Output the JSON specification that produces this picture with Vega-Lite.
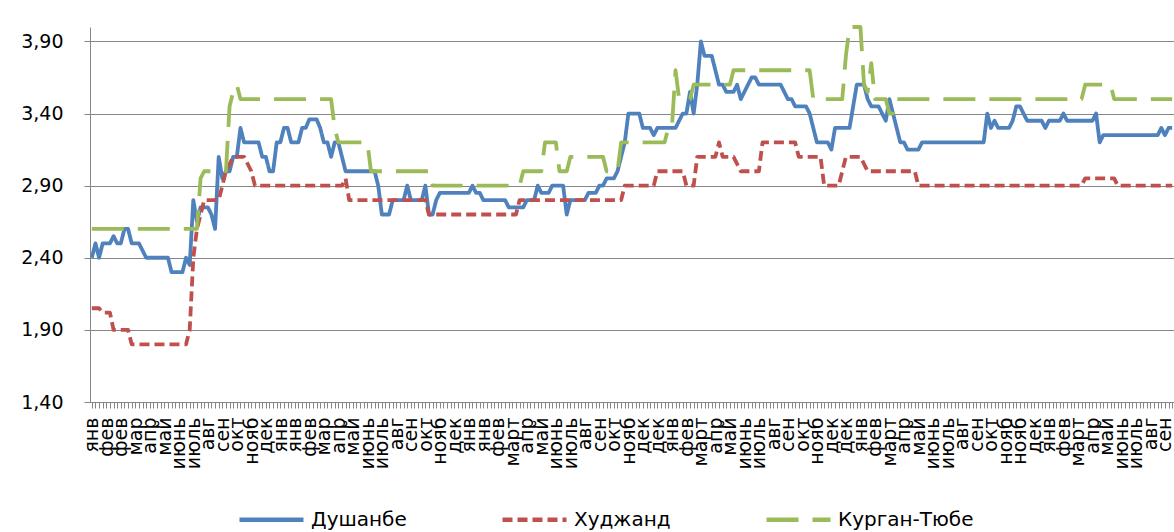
{
"$schema": "https://vega.github.io/schema/vega-lite/v6.json",
"width": 1084, "height": 375,
"autosize": {"type": "none"},
"padding": {"left": 90, "top": 27, "right": 0, "bottom": 130},
"background": "white",
"config": {"view": {"stroke": null}, "font": "DejaVu Sans"},
"data": {"values": [
{"w":"000|янв","Душанбе":2.4,"Худжанд":2.05,"Курган-Тюбе":2.6},
{"w":"001|","Душанбе":2.5,"Худжанд":2.05,"Курган-Тюбе":2.6},
{"w":"002|","Душанбе":2.4,"Худжанд":2.05,"Курган-Тюбе":2.6},
{"w":"003|","Душанбе":2.5,"Худжанд":2.02,"Курган-Тюбе":2.6},
{"w":"004|фев","Душанбе":2.5,"Худжанд":2.02,"Курган-Тюбе":2.6},
{"w":"005|","Душанбе":2.5,"Худжанд":2.02,"Курган-Тюбе":2.6},
{"w":"006|","Душанбе":2.55,"Худжанд":1.9,"Курган-Тюбе":2.6},
{"w":"007|","Душанбе":2.5,"Худжанд":1.9,"Курган-Тюбе":2.6},
{"w":"008|фев","Душанбе":2.5,"Худжанд":1.9,"Курган-Тюбе":2.6},
{"w":"009|","Душанбе":2.6,"Худжанд":1.9,"Курган-Тюбе":2.6},
{"w":"010|","Душанбе":2.6,"Худжанд":1.9,"Курган-Тюбе":2.6},
{"w":"011|","Душанбе":2.5,"Худжанд":1.8,"Курган-Тюбе":2.6},
{"w":"012|мар","Душанбе":2.5,"Худжанд":1.8,"Курган-Тюбе":2.6},
{"w":"013|","Душанбе":2.5,"Худжанд":1.8,"Курган-Тюбе":2.6},
{"w":"014|","Душанбе":2.45,"Худжанд":1.8,"Курган-Тюбе":2.6},
{"w":"015|","Душанбе":2.4,"Худжанд":1.8,"Курган-Тюбе":2.6},
{"w":"016|апр","Душанбе":2.4,"Худжанд":1.8,"Курган-Тюбе":2.6},
{"w":"017|","Душанбе":2.4,"Худжанд":1.8,"Курган-Тюбе":2.6},
{"w":"018|","Душанбе":2.4,"Худжанд":1.8,"Курган-Тюбе":2.6},
{"w":"019|","Душанбе":2.4,"Худжанд":1.8,"Курган-Тюбе":2.6},
{"w":"020|май","Душанбе":2.4,"Худжанд":1.8,"Курган-Тюбе":2.6},
{"w":"021|","Душанбе":2.4,"Худжанд":1.8,"Курган-Тюбе":2.6},
{"w":"022|","Душанбе":2.3,"Худжанд":1.8,"Курган-Тюбе":2.6},
{"w":"023|","Душанбе":2.3,"Худжанд":1.8,"Курган-Тюбе":2.6},
{"w":"024|июнь","Душанбе":2.3,"Худжанд":1.8,"Курган-Тюбе":2.6},
{"w":"025|","Душанбе":2.3,"Худжанд":1.8,"Курган-Тюбе":2.6},
{"w":"026|","Душанбе":2.4,"Худжанд":1.8,"Курган-Тюбе":2.6},
{"w":"027|","Душанбе":2.35,"Худжанд":1.9,"Курган-Тюбе":2.6},
{"w":"028|июль","Душанбе":2.8,"Худжанд":2.4,"Курган-Тюбе":2.6},
{"w":"029|","Душанбе":2.65,"Худжанд":2.6,"Курган-Тюбе":2.6},
{"w":"030|","Душанбе":2.75,"Худжанд":2.7,"Курган-Тюбе":2.95},
{"w":"031|","Душанбе":2.75,"Худжанд":2.8,"Курган-Тюбе":3.0},
{"w":"032|авг","Душанбе":2.75,"Худжанд":2.8,"Курган-Тюбе":3.0},
{"w":"033|","Душанбе":2.7,"Худжанд":2.8,"Курган-Тюбе":3.0},
{"w":"034|","Душанбе":2.6,"Худжанд":2.8,"Курган-Тюбе":3.0},
{"w":"035|","Душанбе":3.1,"Худжанд":2.8,"Курган-Тюбе":3.0},
{"w":"036|сен","Душанбе":2.95,"Худжанд":2.9,"Курган-Тюбе":3.0},
{"w":"037|","Душанбе":3.0,"Худжанд":3.0,"Курган-Тюбе":3.0},
{"w":"038|","Душанбе":3.0,"Худжанд":3.05,"Курган-Тюбе":3.45},
{"w":"039|","Душанбе":3.1,"Худжанд":3.1,"Курган-Тюбе":3.55},
{"w":"040|окт","Душанбе":3.1,"Худжанд":3.1,"Курган-Тюбе":3.6},
{"w":"041|","Душанбе":3.3,"Худжанд":3.1,"Курган-Тюбе":3.5},
{"w":"042|","Душанбе":3.2,"Худжанд":3.1,"Курган-Тюбе":3.5},
{"w":"043|","Душанбе":3.2,"Худжанд":3.05,"Курган-Тюбе":3.5},
{"w":"044|нояб","Душанбе":3.2,"Худжанд":3.0,"Курган-Тюбе":3.5},
{"w":"045|","Душанбе":3.2,"Худжанд":2.9,"Курган-Тюбе":3.5},
{"w":"046|","Душанбе":3.2,"Худжанд":2.9,"Курган-Тюбе":3.5},
{"w":"047|","Душанбе":3.1,"Худжанд":2.9,"Курган-Тюбе":3.5},
{"w":"048|дек","Душанбе":3.1,"Худжанд":2.9,"Курган-Тюбе":3.5},
{"w":"049|","Душанбе":3.0,"Худжанд":2.9,"Курган-Тюбе":3.5},
{"w":"050|","Душанбе":3.0,"Худжанд":2.9,"Курган-Тюбе":3.5},
{"w":"051|","Душанбе":3.2,"Худжанд":2.9,"Курган-Тюбе":3.5},
{"w":"052|янв","Душанбе":3.2,"Худжанд":2.9,"Курган-Тюбе":3.5},
{"w":"053|","Душанбе":3.3,"Худжанд":2.9,"Курган-Тюбе":3.5},
{"w":"054|","Душанбе":3.3,"Худжанд":2.9,"Курган-Тюбе":3.5},
{"w":"055|","Душанбе":3.2,"Худжанд":2.9,"Курган-Тюбе":3.5},
{"w":"056|янв","Душанбе":3.2,"Худжанд":2.9,"Курган-Тюбе":3.5},
{"w":"057|","Душанбе":3.2,"Худжанд":2.9,"Курган-Тюбе":3.5},
{"w":"058|","Душанбе":3.3,"Худжанд":2.9,"Курган-Тюбе":3.5},
{"w":"059|","Душанбе":3.3,"Худжанд":2.9,"Курган-Тюбе":3.5},
{"w":"060|фев","Душанбе":3.36,"Худжанд":2.9,"Курган-Тюбе":3.5},
{"w":"061|","Душанбе":3.36,"Худжанд":2.9,"Курган-Тюбе":3.5},
{"w":"062|","Душанбе":3.36,"Худжанд":2.9,"Курган-Тюбе":3.5},
{"w":"063|","Душанбе":3.3,"Худжанд":2.9,"Курган-Тюбе":3.5},
{"w":"064|мар","Душанбе":3.2,"Худжанд":2.9,"Курган-Тюбе":3.5},
{"w":"065|","Душанбе":3.2,"Худжанд":2.9,"Курган-Тюбе":3.5},
{"w":"066|","Душанбе":3.1,"Худжанд":2.9,"Курган-Тюбе":3.5},
{"w":"067|","Душанбе":3.2,"Худжанд":2.9,"Курган-Тюбе":3.3},
{"w":"068|апр","Душанбе":3.2,"Худжанд":2.9,"Курган-Тюбе":3.2},
{"w":"069|","Душанбе":3.1,"Худжанд":2.9,"Курган-Тюбе":3.2},
{"w":"070|","Душанбе":3.0,"Худжанд":2.95,"Курган-Тюбе":3.2},
{"w":"071|","Душанбе":3.0,"Худжанд":2.8,"Курган-Тюбе":3.2},
{"w":"072|май","Душанбе":3.0,"Худжанд":2.8,"Курган-Тюбе":3.2},
{"w":"073|","Душанбе":3.0,"Худжанд":2.8,"Курган-Тюбе":3.2},
{"w":"074|","Душанбе":3.0,"Худжанд":2.8,"Курган-Тюбе":3.2},
{"w":"075|","Душанбе":3.0,"Худжанд":2.8,"Курган-Тюбе":3.2},
{"w":"076|июнь","Душанбе":3.0,"Худжанд":2.8,"Курган-Тюбе":3.2},
{"w":"077|","Душанбе":3.0,"Худжанд":2.8,"Курган-Тюбе":3.0},
{"w":"078|","Душанбе":3.0,"Худжанд":2.8,"Курган-Тюбе":3.0},
{"w":"079|","Душанбе":2.9,"Худжанд":2.8,"Курган-Тюбе":3.0},
{"w":"080|июль","Душанбе":2.7,"Худжанд":2.8,"Курган-Тюбе":3.0},
{"w":"081|","Душанбе":2.7,"Худжанд":2.8,"Курган-Тюбе":3.0},
{"w":"082|","Душанбе":2.7,"Худжанд":2.8,"Курган-Тюбе":3.0},
{"w":"083|","Душанбе":2.8,"Худжанд":2.8,"Курган-Тюбе":3.0},
{"w":"084|авг","Душанбе":2.8,"Худжанд":2.8,"Курган-Тюбе":3.0},
{"w":"085|","Душанбе":2.8,"Худжанд":2.8,"Курган-Тюбе":3.0},
{"w":"086|","Душанбе":2.8,"Худжанд":2.8,"Курган-Тюбе":3.0},
{"w":"087|","Душанбе":2.9,"Худжанд":2.8,"Курган-Тюбе":3.0},
{"w":"088|сен","Душанбе":2.8,"Худжанд":2.8,"Курган-Тюбе":3.0},
{"w":"089|","Душанбе":2.8,"Худжанд":2.8,"Курган-Тюбе":3.0},
{"w":"090|","Душанбе":2.8,"Худжанд":2.8,"Курган-Тюбе":3.0},
{"w":"091|","Душанбе":2.8,"Худжанд":2.8,"Курган-Тюбе":3.0},
{"w":"092|окт","Душанбе":2.9,"Худжанд":2.8,"Курган-Тюбе":3.0},
{"w":"093|","Душанбе":2.7,"Худжанд":2.7,"Курган-Тюбе":3.0},
{"w":"094|","Душанбе":2.7,"Худжанд":2.7,"Курган-Тюбе":2.9},
{"w":"095|","Душанбе":2.8,"Худжанд":2.7,"Курган-Тюбе":2.9},
{"w":"096|нояб","Душанбе":2.85,"Худжанд":2.7,"Курган-Тюбе":2.9},
{"w":"097|","Душанбе":2.85,"Худжанд":2.7,"Курган-Тюбе":2.9},
{"w":"098|","Душанбе":2.85,"Худжанд":2.7,"Курган-Тюбе":2.9},
{"w":"099|","Душанбе":2.85,"Худжанд":2.7,"Курган-Тюбе":2.9},
{"w":"100|дек","Душанбе":2.85,"Худжанд":2.7,"Курган-Тюбе":2.9},
{"w":"101|","Душанбе":2.85,"Худжанд":2.7,"Курган-Тюбе":2.9},
{"w":"102|","Душанбе":2.85,"Худжанд":2.7,"Курган-Тюбе":2.9},
{"w":"103|","Душанбе":2.85,"Худжанд":2.7,"Курган-Тюбе":2.9},
{"w":"104|янв","Душанбе":2.85,"Худжанд":2.7,"Курган-Тюбе":2.9},
{"w":"105|","Душанбе":2.9,"Худжанд":2.7,"Курган-Тюбе":2.9},
{"w":"106|","Душанбе":2.85,"Худжанд":2.7,"Курган-Тюбе":2.9},
{"w":"107|","Душанбе":2.85,"Худжанд":2.7,"Курган-Тюбе":2.9},
{"w":"108|янв","Душанбе":2.8,"Худжанд":2.7,"Курган-Тюбе":2.9},
{"w":"109|","Душанбе":2.8,"Худжанд":2.7,"Курган-Тюбе":2.9},
{"w":"110|","Душанбе":2.8,"Худжанд":2.7,"Курган-Тюбе":2.9},
{"w":"111|","Душанбе":2.8,"Худжанд":2.7,"Курган-Тюбе":2.9},
{"w":"112|фев","Душанбе":2.8,"Худжанд":2.7,"Курган-Тюбе":2.9},
{"w":"113|","Душанбе":2.8,"Худжанд":2.7,"Курган-Тюбе":2.9},
{"w":"114|","Душанбе":2.8,"Худжанд":2.7,"Курган-Тюбе":2.9},
{"w":"115|","Душанбе":2.75,"Худжанд":2.7,"Курган-Тюбе":2.9},
{"w":"116|март","Душанбе":2.75,"Худжанд":2.7,"Курган-Тюбе":2.9},
{"w":"117|","Душанбе":2.75,"Худжанд":2.7,"Курган-Тюбе":2.9},
{"w":"118|","Душанбе":2.75,"Худжанд":2.8,"Курган-Тюбе":2.9},
{"w":"119|","Душанбе":2.75,"Худжанд":2.8,"Курган-Тюбе":3.0},
{"w":"120|апр","Душанбе":2.8,"Худжанд":2.8,"Курган-Тюбе":3.0},
{"w":"121|","Душанбе":2.8,"Худжанд":2.8,"Курган-Тюбе":3.0},
{"w":"122|","Душанбе":2.8,"Худжанд":2.8,"Курган-Тюбе":3.0},
{"w":"123|","Душанбе":2.9,"Худжанд":2.8,"Курган-Тюбе":3.0},
{"w":"124|май","Душанбе":2.85,"Худжанд":2.8,"Курган-Тюбе":3.0},
{"w":"125|","Душанбе":2.85,"Худжанд":2.8,"Курган-Тюбе":3.2},
{"w":"126|","Душанбе":2.85,"Худжанд":2.8,"Курган-Тюбе":3.2},
{"w":"127|","Душанбе":2.9,"Худжанд":2.8,"Курган-Тюбе":3.2},
{"w":"128|июнь","Душанбе":2.9,"Худжанд":2.8,"Курган-Тюбе":3.2},
{"w":"129|","Душанбе":2.9,"Худжанд":2.8,"Курган-Тюбе":3.0},
{"w":"130|","Душанбе":2.9,"Худжанд":2.8,"Курган-Тюбе":3.0},
{"w":"131|","Душанбе":2.7,"Худжанд":2.8,"Курган-Тюбе":3.0},
{"w":"132|июль","Душанбе":2.8,"Худжанд":2.8,"Курган-Тюбе":3.1},
{"w":"133|","Душанбе":2.8,"Худжанд":2.8,"Курган-Тюбе":3.1},
{"w":"134|","Душанбе":2.8,"Худжанд":2.8,"Курган-Тюбе":3.1},
{"w":"135|","Душанбе":2.8,"Худжанд":2.8,"Курган-Тюбе":3.1},
{"w":"136|авг","Душанбе":2.8,"Худжанд":2.8,"Курган-Тюбе":3.1},
{"w":"137|","Душанбе":2.85,"Худжанд":2.8,"Курган-Тюбе":3.1},
{"w":"138|","Душанбе":2.85,"Худжанд":2.8,"Курган-Тюбе":3.1},
{"w":"139|","Душанбе":2.85,"Худжанд":2.8,"Курган-Тюбе":3.1},
{"w":"140|сен","Душанбе":2.9,"Худжанд":2.8,"Курган-Тюбе":3.1},
{"w":"141|","Душанбе":2.9,"Худжанд":2.8,"Курган-Тюбе":3.1},
{"w":"142|","Душанбе":2.95,"Худжанд":2.8,"Курган-Тюбе":3.0},
{"w":"143|","Душанбе":2.95,"Худжанд":2.8,"Курган-Тюбе":3.0},
{"w":"144|окт","Душанбе":2.95,"Худжанд":2.8,"Курган-Тюбе":3.0},
{"w":"145|","Душанбе":3.0,"Худжанд":2.8,"Курган-Тюбе":3.0},
{"w":"146|","Душанбе":3.1,"Худжанд":2.8,"Курган-Тюбе":3.2},
{"w":"147|","Душанбе":3.2,"Худжанд":2.9,"Курган-Тюбе":3.2},
{"w":"148|нояб","Душанбе":3.4,"Худжанд":2.9,"Курган-Тюбе":3.2},
{"w":"149|","Душанбе":3.4,"Худжанд":2.9,"Курган-Тюбе":3.2},
{"w":"150|","Душанбе":3.4,"Худжанд":2.9,"Курган-Тюбе":3.2},
{"w":"151|","Душанбе":3.4,"Худжанд":2.9,"Курган-Тюбе":3.2},
{"w":"152|дек","Душанбе":3.3,"Худжанд":2.9,"Курган-Тюбе":3.2},
{"w":"153|","Душанбе":3.3,"Худжанд":2.9,"Курган-Тюбе":3.2},
{"w":"154|","Душанбе":3.3,"Худжанд":2.9,"Курган-Тюбе":3.2},
{"w":"155|","Душанбе":3.25,"Худжанд":2.9,"Курган-Тюбе":3.2},
{"w":"156|дек","Душанбе":3.3,"Худжанд":3.0,"Курган-Тюбе":3.2},
{"w":"157|","Душанбе":3.3,"Худжанд":3.0,"Курган-Тюбе":3.2},
{"w":"158|","Душанбе":3.3,"Худжанд":3.0,"Курган-Тюбе":3.2},
{"w":"159|","Душанбе":3.3,"Худжанд":3.0,"Курган-Тюбе":3.3},
{"w":"160|янв","Душанбе":3.3,"Худжанд":3.0,"Курган-Тюбе":3.3},
{"w":"161|","Душанбе":3.3,"Худжанд":3.0,"Курган-Тюбе":3.7},
{"w":"162|","Душанбе":3.35,"Худжанд":3.0,"Курган-Тюбе":3.5},
{"w":"163|","Душанбе":3.4,"Худжанд":3.0,"Курган-Тюбе":3.5},
{"w":"164|фев","Душанбе":3.4,"Худжанд":2.9,"Курган-Тюбе":3.5},
{"w":"165|","Душанбе":3.55,"Худжанд":2.9,"Курган-Тюбе":3.5},
{"w":"166|","Душанбе":3.4,"Худжанд":2.9,"Курган-Тюбе":3.6},
{"w":"167|","Душанбе":3.6,"Худжанд":3.1,"Курган-Тюбе":3.6},
{"w":"168|март","Душанбе":3.9,"Худжанд":3.1,"Курган-Тюбе":3.6},
{"w":"169|","Душанбе":3.8,"Худжанд":3.1,"Курган-Тюбе":3.6},
{"w":"170|","Душанбе":3.8,"Худжанд":3.1,"Курган-Тюбе":3.6},
{"w":"171|","Душанбе":3.8,"Худжанд":3.1,"Курган-Тюбе":3.6},
{"w":"172|апр","Душанбе":3.7,"Худжанд":3.1,"Курган-Тюбе":3.6},
{"w":"173|","Душанбе":3.6,"Худжанд":3.2,"Курган-Тюбе":3.6},
{"w":"174|","Душанбе":3.6,"Худжанд":3.1,"Курган-Тюбе":3.6},
{"w":"175|","Душанбе":3.55,"Худжанд":3.1,"Курган-Тюбе":3.6},
{"w":"176|май","Душанбе":3.55,"Худжанд":3.1,"Курган-Тюбе":3.6},
{"w":"177|","Душанбе":3.55,"Худжанд":3.1,"Курган-Тюбе":3.7},
{"w":"178|","Душанбе":3.6,"Худжанд":3.05,"Курган-Тюбе":3.7},
{"w":"179|","Душанбе":3.5,"Худжанд":3.0,"Курган-Тюбе":3.7},
{"w":"180|июнь","Душанбе":3.55,"Худжанд":3.0,"Курган-Тюбе":3.7},
{"w":"181|","Душанбе":3.6,"Худжанд":3.0,"Курган-Тюбе":3.7},
{"w":"182|","Душанбе":3.65,"Худжанд":3.0,"Курган-Тюбе":3.7},
{"w":"183|","Душанбе":3.65,"Худжанд":3.0,"Курган-Тюбе":3.7},
{"w":"184|июль","Душанбе":3.6,"Худжанд":3.0,"Курган-Тюбе":3.7},
{"w":"185|","Душанбе":3.6,"Худжанд":3.2,"Курган-Тюбе":3.7},
{"w":"186|","Душанбе":3.6,"Худжанд":3.2,"Курган-Тюбе":3.7},
{"w":"187|","Душанбе":3.6,"Худжанд":3.2,"Курган-Тюбе":3.7},
{"w":"188|авг","Душанбе":3.6,"Худжанд":3.2,"Курган-Тюбе":3.7},
{"w":"189|","Душанбе":3.6,"Худжанд":3.2,"Курган-Тюбе":3.7},
{"w":"190|","Душанбе":3.6,"Худжанд":3.2,"Курган-Тюбе":3.7},
{"w":"191|","Душанбе":3.55,"Худжанд":3.2,"Курган-Тюбе":3.7},
{"w":"192|сен","Душанбе":3.5,"Худжанд":3.2,"Курган-Тюбе":3.7},
{"w":"193|","Душанбе":3.5,"Худжанд":3.2,"Курган-Тюбе":3.7},
{"w":"194|","Душанбе":3.45,"Худжанд":3.2,"Курган-Тюбе":3.7},
{"w":"195|","Душанбе":3.45,"Худжанд":3.1,"Курган-Тюбе":3.7},
{"w":"196|окт","Душанбе":3.45,"Худжанд":3.1,"Курган-Тюбе":3.7},
{"w":"197|","Душанбе":3.45,"Худжанд":3.1,"Курган-Тюбе":3.7},
{"w":"198|","Душанбе":3.4,"Худжанд":3.1,"Курган-Тюбе":3.7},
{"w":"199|","Душанбе":3.3,"Худжанд":3.1,"Курган-Тюбе":3.5},
{"w":"200|нояб","Душанбе":3.2,"Худжанд":3.1,"Курган-Тюбе":3.5},
{"w":"201|","Душанбе":3.2,"Худжанд":3.1,"Курган-Тюбе":3.5},
{"w":"202|","Душанбе":3.2,"Худжанд":2.9,"Курган-Тюбе":3.5},
{"w":"203|","Душанбе":3.2,"Худжанд":2.9,"Курган-Тюбе":3.5},
{"w":"204|дек","Душанбе":3.15,"Худжанд":2.9,"Курган-Тюбе":3.5},
{"w":"205|","Душанбе":3.3,"Худжанд":2.9,"Курган-Тюбе":3.5},
{"w":"206|","Душанбе":3.3,"Худжанд":2.9,"Курган-Тюбе":3.5},
{"w":"207|","Душанбе":3.3,"Худжанд":3.0,"Курган-Тюбе":3.5},
{"w":"208|дек","Душанбе":3.3,"Худжанд":3.1,"Курган-Тюбе":3.8},
{"w":"209|","Душанбе":3.3,"Худжанд":3.1,"Курган-Тюбе":4.0},
{"w":"210|","Душанбе":3.45,"Худжанд":3.1,"Курган-Тюбе":4.0},
{"w":"211|","Душанбе":3.6,"Худжанд":3.1,"Курган-Тюбе":4.0},
{"w":"212|янв","Душанбе":3.6,"Худжанд":3.1,"Курган-Тюбе":4.0},
{"w":"213|","Душанбе":3.6,"Худжанд":3.05,"Курган-Тюбе":3.6},
{"w":"214|","Душанбе":3.5,"Худжанд":3.0,"Курган-Тюбе":3.55},
{"w":"215|","Душанбе":3.45,"Худжанд":3.0,"Курган-Тюбе":3.75},
{"w":"216|фев","Душанбе":3.45,"Худжанд":3.0,"Курган-Тюбе":3.5},
{"w":"217|","Душанбе":3.45,"Худжанд":3.0,"Курган-Тюбе":3.5},
{"w":"218|","Душанбе":3.4,"Худжанд":3.0,"Курган-Тюбе":3.5},
{"w":"219|","Душанбе":3.35,"Худжанд":3.0,"Курган-Тюбе":3.5},
{"w":"220|март","Душанбе":3.5,"Худжанд":3.0,"Курган-Тюбе":3.4},
{"w":"221|","Душанбе":3.4,"Худжанд":3.0,"Курган-Тюбе":3.4},
{"w":"222|","Душанбе":3.3,"Худжанд":3.0,"Курган-Тюбе":3.5},
{"w":"223|","Душанбе":3.2,"Худжанд":3.0,"Курган-Тюбе":3.5},
{"w":"224|апр","Душанбе":3.2,"Худжанд":3.0,"Курган-Тюбе":3.5},
{"w":"225|","Душанбе":3.15,"Худжанд":3.0,"Курган-Тюбе":3.5},
{"w":"226|","Душанбе":3.15,"Худжанд":3.0,"Курган-Тюбе":3.5},
{"w":"227|","Душанбе":3.15,"Худжанд":3.0,"Курган-Тюбе":3.5},
{"w":"228|май","Душанбе":3.15,"Худжанд":2.9,"Курган-Тюбе":3.5},
{"w":"229|","Душанбе":3.2,"Худжанд":2.9,"Курган-Тюбе":3.5},
{"w":"230|","Душанбе":3.2,"Худжанд":2.9,"Курган-Тюбе":3.5},
{"w":"231|","Душанбе":3.2,"Худжанд":2.9,"Курган-Тюбе":3.5},
{"w":"232|июнь","Душанбе":3.2,"Худжанд":2.9,"Курган-Тюбе":3.5},
{"w":"233|","Душанбе":3.2,"Худжанд":2.9,"Курган-Тюбе":3.5},
{"w":"234|","Душанбе":3.2,"Худжанд":2.9,"Курган-Тюбе":3.5},
{"w":"235|","Душанбе":3.2,"Худжанд":2.9,"Курган-Тюбе":3.5},
{"w":"236|июль","Душанбе":3.2,"Худжанд":2.9,"Курган-Тюбе":3.5},
{"w":"237|","Душанбе":3.2,"Худжанд":2.9,"Курган-Тюбе":3.5},
{"w":"238|","Душанбе":3.2,"Худжанд":2.9,"Курган-Тюбе":3.5},
{"w":"239|","Душанбе":3.2,"Худжанд":2.9,"Курган-Тюбе":3.5},
{"w":"240|авг","Душанбе":3.2,"Худжанд":2.9,"Курган-Тюбе":3.5},
{"w":"241|","Душанбе":3.2,"Худжанд":2.9,"Курган-Тюбе":3.5},
{"w":"242|","Душанбе":3.2,"Худжанд":2.9,"Курган-Тюбе":3.5},
{"w":"243|","Душанбе":3.2,"Худжанд":2.9,"Курган-Тюбе":3.5},
{"w":"244|сен","Душанбе":3.2,"Худжанд":2.9,"Курган-Тюбе":3.5},
{"w":"245|","Душанбе":3.2,"Худжанд":2.9,"Курган-Тюбе":3.5},
{"w":"246|","Душанбе":3.2,"Худжанд":2.9,"Курган-Тюбе":3.5},
{"w":"247|","Душанбе":3.4,"Худжанд":2.9,"Курган-Тюбе":3.5},
{"w":"248|окт","Душанбе":3.3,"Худжанд":2.9,"Курган-Тюбе":3.5},
{"w":"249|","Душанбе":3.35,"Худжанд":2.9,"Курган-Тюбе":3.5},
{"w":"250|","Душанбе":3.3,"Худжанд":2.9,"Курган-Тюбе":3.5},
{"w":"251|","Душанбе":3.3,"Худжанд":2.9,"Курган-Тюбе":3.5},
{"w":"252|нояб","Душанбе":3.3,"Худжанд":2.9,"Курган-Тюбе":3.5},
{"w":"253|","Душанбе":3.3,"Худжанд":2.9,"Курган-Тюбе":3.5},
{"w":"254|","Душанбе":3.35,"Худжанд":2.9,"Курган-Тюбе":3.5},
{"w":"255|","Душанбе":3.45,"Худжанд":2.9,"Курган-Тюбе":3.5},
{"w":"256|нояб","Душанбе":3.45,"Худжанд":2.9,"Курган-Тюбе":3.5},
{"w":"257|","Душанбе":3.4,"Худжанд":2.9,"Курган-Тюбе":3.5},
{"w":"258|","Душанбе":3.35,"Худжанд":2.9,"Курган-Тюбе":3.5},
{"w":"259|","Душанбе":3.35,"Худжанд":2.9,"Курган-Тюбе":3.5},
{"w":"260|дек","Душанбе":3.35,"Худжанд":2.9,"Курган-Тюбе":3.5},
{"w":"261|","Душанбе":3.35,"Худжанд":2.9,"Курган-Тюбе":3.5},
{"w":"262|","Душанбе":3.35,"Худжанд":2.9,"Курган-Тюбе":3.5},
{"w":"263|","Душанбе":3.3,"Худжанд":2.9,"Курган-Тюбе":3.5},
{"w":"264|янв","Душанбе":3.35,"Худжанд":2.9,"Курган-Тюбе":3.5},
{"w":"265|","Душанбе":3.35,"Худжанд":2.9,"Курган-Тюбе":3.5},
{"w":"266|","Душанбе":3.35,"Худжанд":2.9,"Курган-Тюбе":3.5},
{"w":"267|","Душанбе":3.35,"Худжанд":2.9,"Курган-Тюбе":3.5},
{"w":"268|фев","Душанбе":3.4,"Худжанд":2.9,"Курган-Тюбе":3.5},
{"w":"269|","Душанбе":3.35,"Худжанд":2.9,"Курган-Тюбе":3.5},
{"w":"270|","Душанбе":3.35,"Худжанд":2.9,"Курган-Тюбе":3.5},
{"w":"271|","Душанбе":3.35,"Худжанд":2.9,"Курган-Тюбе":3.5},
{"w":"272|март","Душанбе":3.35,"Худжанд":2.9,"Курган-Тюбе":3.5},
{"w":"273|","Душанбе":3.35,"Худжанд":2.9,"Курган-Тюбе":3.5},
{"w":"274|","Душанбе":3.35,"Худжанд":2.95,"Курган-Тюбе":3.6},
{"w":"275|","Душанбе":3.35,"Худжанд":2.95,"Курган-Тюбе":3.6},
{"w":"276|апр","Душанбе":3.35,"Худжанд":2.95,"Курган-Тюбе":3.6},
{"w":"277|","Душанбе":3.4,"Худжанд":2.95,"Курган-Тюбе":3.6},
{"w":"278|","Душанбе":3.2,"Худжанд":2.95,"Курган-Тюбе":3.6},
{"w":"279|","Душанбе":3.25,"Худжанд":2.95,"Курган-Тюбе":3.6},
{"w":"280|май","Душанбе":3.25,"Худжанд":2.95,"Курган-Тюбе":3.6},
{"w":"281|","Душанбе":3.25,"Худжанд":2.95,"Курган-Тюбе":3.6},
{"w":"282|","Душанбе":3.25,"Худжанд":2.95,"Курган-Тюбе":3.5},
{"w":"283|","Душанбе":3.25,"Худжанд":2.9,"Курган-Тюбе":3.5},
{"w":"284|июнь","Душанбе":3.25,"Худжанд":2.9,"Курган-Тюбе":3.5},
{"w":"285|","Душанбе":3.25,"Худжанд":2.9,"Курган-Тюбе":3.5},
{"w":"286|","Душанбе":3.25,"Худжанд":2.9,"Курган-Тюбе":3.5},
{"w":"287|","Душанбе":3.25,"Худжанд":2.9,"Курган-Тюбе":3.5},
{"w":"288|июль","Душанбе":3.25,"Худжанд":2.9,"Курган-Тюбе":3.5},
{"w":"289|","Душанбе":3.25,"Худжанд":2.9,"Курган-Тюбе":3.5},
{"w":"290|","Душанбе":3.25,"Худжанд":2.9,"Курган-Тюбе":3.5},
{"w":"291|","Душанбе":3.25,"Худжанд":2.9,"Курган-Тюбе":3.5},
{"w":"292|авг","Душанбе":3.25,"Худжанд":2.9,"Курган-Тюбе":3.5},
{"w":"293|","Душанбе":3.25,"Худжанд":2.9,"Курган-Тюбе":3.5},
{"w":"294|","Душанбе":3.25,"Худжанд":2.9,"Курган-Тюбе":3.5},
{"w":"295|","Душанбе":3.3,"Худжанд":2.9,"Курган-Тюбе":3.5},
{"w":"296|сен","Душанбе":3.25,"Худжанд":2.9,"Курган-Тюбе":3.5},
{"w":"297|","Душанбе":3.3,"Худжанд":2.9,"Курган-Тюбе":3.5},
{"w":"298|","Душанбе":3.3,"Худжанд":2.9,"Курган-Тюбе":3.5}
]},
"transform": [{"fold": ["Душанбе", "Худжанд", "Курган-Тюбе"], "as": ["series", "value"]}],
"mark": {"type": "line", "strokeWidth": 3.8, "strokeCap": "butt", "strokeJoin": "round"},
"encoding": {
  "x": {"field": "w", "type": "ordinal", "sort": "ascending", "scale": {"padding": 0.5},
    "axis": {"title": null, "labelExpr": "split(datum.value, '|')[1]", "labelAngle": -90, "labelFont": "DejaVu Sans", "labelFontSize": 19, "labelColor": "#000000", "labelPadding": 9, "tickSize": 6, "tickColor": "#868686", "domainColor": "#868686", "labelOverlap": false, "labelBound": false, "grid": false}},
  "y": {"field": "value", "type": "quantitative", "scale": {"domain": [1.4, 4.0], "zero": false, "nice": false},
    "axis": {"title": null, "values": [1.4, 1.9, 2.4, 2.9, 3.4, 3.9], "labelExpr": "replace(format(datum.value, '.2f'), '.', ',')", "labelFont": "DejaVu Sans", "labelFontSize": 19, "labelColor": "#000000", "labelPadding": 21, "tickSize": 6, "tickColor": "#868686", "domainColor": "#868686", "gridColor": "#868686", "grid": true}},
  "color": {"field": "series", "type": "nominal",
    "scale": {"domain": ["Душанбе", "Худжанд", "Курган-Тюбе"], "range": ["#4F81BD", "#C0504D", "#9BBB59"]},
    "legend": {"title": null, "orient": "none", "legendX": 147, "legendY": 458, "direction": "horizontal", "symbolType": "stroke", "symbolSize": 4096, "symbolStrokeWidth": 4.5, "labelFont": "DejaVu Sans", "labelFontSize": 20, "labelColor": "#000000", "labelOffset": 5, "columnPadding": 86}},
  "strokeDash": {"field": "series", "type": "nominal",
    "scale": {"domain": ["Душанбе", "Худжанд", "Курган-Тюбе"], "range": [[1, 0], [10, 5], [32, 14]]},
    "legend": {"title": null, "orient": "none", "legendX": 147, "legendY": 458, "direction": "horizontal", "symbolType": "stroke", "symbolSize": 4096, "symbolStrokeWidth": 4.5, "labelFont": "DejaVu Sans", "labelFontSize": 20, "labelColor": "#000000", "labelOffset": 5, "columnPadding": 86}}
}
}
